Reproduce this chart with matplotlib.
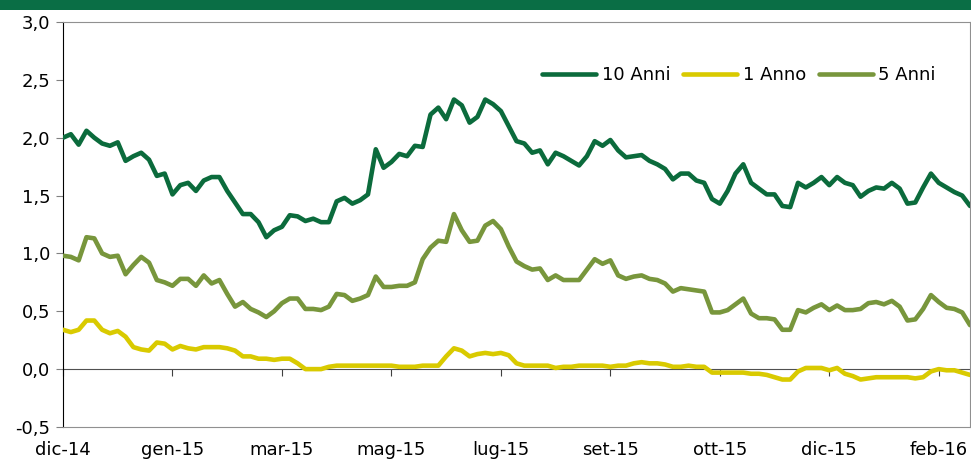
import numpy as np
import matplotlib
matplotlib.use('Agg')
import matplotlib.pyplot as plt
from matplotlib.patches import Rectangle
from matplotlib.ticker import FuncFormatter

# Tick labels (one every 14 observations)
tick_labels = ['dic-14', 'gen-15', 'mar-15', 'mag-15', 'lug-15',
               'set-15', 'ott-15', 'dic-15', 'feb-16']
tick_step = 14

# Yields (%)
anni_10 = [2.00, 2.03, 1.94, 2.06, 2.00, 1.95, 1.93, 1.96, 1.80, 1.84,
           1.87, 1.81, 1.67, 1.69, 1.51, 1.59, 1.61, 1.54, 1.63, 1.66,
           1.66, 1.54, 1.44, 1.34, 1.34, 1.27, 1.14, 1.20, 1.23, 1.33,
           1.32, 1.28, 1.30, 1.27, 1.27, 1.45, 1.48, 1.43, 1.46, 1.51,
           1.90, 1.74, 1.79, 1.86, 1.84, 1.93, 1.92, 2.20, 2.26, 2.16,
           2.33, 2.28, 2.13, 2.18, 2.33, 2.29, 2.23, 2.10, 1.97, 1.95,
           1.87, 1.89, 1.77, 1.87, 1.84, 1.80, 1.76, 1.84, 1.97, 1.93,
           1.98, 1.89, 1.83, 1.84, 1.85, 1.80, 1.77, 1.73, 1.64, 1.69,
           1.69, 1.63, 1.61, 1.47, 1.43, 1.54, 1.69, 1.77, 1.61, 1.56,
           1.51, 1.51, 1.41, 1.40, 1.61, 1.57, 1.61, 1.66, 1.59, 1.66,
           1.61, 1.59, 1.49, 1.54, 1.57, 1.56, 1.61, 1.56, 1.43, 1.44,
           1.57, 1.69, 1.61, 1.57, 1.53, 1.50, 1.41]

anno_1 = [0.34, 0.32, 0.34, 0.42, 0.42, 0.34, 0.31, 0.33, 0.28, 0.19,
          0.17, 0.16, 0.23, 0.22, 0.17, 0.20, 0.18, 0.17, 0.19, 0.19,
          0.19, 0.18, 0.16, 0.11, 0.11, 0.09, 0.09, 0.08, 0.09, 0.09,
          0.05, 0.00, 0.00, 0.00, 0.02, 0.03, 0.03, 0.03, 0.03, 0.03,
          0.03, 0.03, 0.03, 0.02, 0.02, 0.02, 0.03, 0.03, 0.03, 0.11,
          0.18, 0.16, 0.11, 0.13, 0.14, 0.13, 0.14, 0.12, 0.05, 0.03,
          0.03, 0.03, 0.03, 0.01, 0.02, 0.02, 0.03, 0.03, 0.03, 0.03,
          0.02, 0.03, 0.03, 0.05, 0.06, 0.05, 0.05, 0.04, 0.02, 0.02,
          0.03, 0.02, 0.02, -0.03, -0.03, -0.03, -0.03, -0.03, -0.04, -0.04,
          -0.05, -0.07, -0.09, -0.09, -0.02, 0.01, 0.01, 0.01, -0.01, 0.01,
          -0.04, -0.06, -0.09, -0.08, -0.07, -0.07, -0.07, -0.07, -0.07, -0.08,
          -0.07, -0.02, 0.00, -0.01, -0.01, -0.03, -0.05]

anni_5 = [0.98, 0.97, 0.94, 1.14, 1.13, 1.00, 0.97, 0.98, 0.82, 0.90,
          0.97, 0.92, 0.77, 0.75, 0.72, 0.78, 0.78, 0.72, 0.81, 0.74,
          0.77, 0.65, 0.54, 0.58, 0.52, 0.49, 0.45, 0.50, 0.57, 0.61,
          0.61, 0.52, 0.52, 0.51, 0.54, 0.65, 0.64, 0.59, 0.61, 0.64,
          0.80, 0.71, 0.71, 0.72, 0.72, 0.75, 0.95, 1.05, 1.11, 1.10,
          1.34, 1.20, 1.10, 1.11, 1.24, 1.28, 1.21, 1.06, 0.93, 0.89,
          0.86, 0.87, 0.77, 0.81, 0.77, 0.77, 0.77, 0.86, 0.95, 0.91,
          0.94, 0.81, 0.78, 0.80, 0.81, 0.78, 0.77, 0.74, 0.67, 0.70,
          0.69, 0.68, 0.67, 0.49, 0.49, 0.51, 0.56, 0.61, 0.48, 0.44,
          0.44, 0.43, 0.34, 0.34, 0.51, 0.49, 0.53, 0.56, 0.51, 0.55,
          0.51, 0.51, 0.52, 0.57, 0.58, 0.56, 0.59, 0.54, 0.42, 0.43,
          0.52, 0.64, 0.58, 0.53, 0.52, 0.49, 0.38]

plt.rcParams['font.family'] = ['DejaVu Sans']
plt.rcParams['font.size'] = 13

fig = plt.figure(figsize=(9.71, 4.61), dpi=100)
ax = fig.add_axes([0.0649, 0.0738, 0.9341, 0.8785])

# green header strip
fig.patches.append(Rectangle((0, 1 - 10 / 461), 1, 10 / 461, transform=fig.transFigure,
                             facecolor='#0a6e45', edgecolor='none'))

x = np.arange(len(anni_10))
ax.plot(x, anni_10, color='#0b6b3c', lw=3.3, solid_capstyle='round', label='10 Anni', zorder=3)
ax.plot(x, anno_1, color='#d9ca00', lw=3.3, solid_capstyle='round', label='1 Anno', zorder=3)
ax.plot(x, anni_5, color='#78963c', lw=3.3, solid_capstyle='round', label='5 Anni', zorder=3)

ax.set_xlim(0, len(anni_10) - 1)
ax.set_ylim(-0.5, 3.0)
ax.set_yticks(np.arange(-0.5, 3.01, 0.5))
ax.yaxis.set_major_formatter(FuncFormatter(lambda v, p: '{:.1f}'.format(v).replace('.', ',')))

ticks = np.arange(len(tick_labels)) * tick_step
ax.set_xticks(ticks)
ax.set_xticklabels(tick_labels)
ax.tick_params(axis='x', length=0, pad=10)
ax.tick_params(axis='y', direction='out', length=5, color='#808080', pad=4)

for side in ['top', 'right', 'bottom']:
    ax.spines[side].set_color('#909090')
ax.spines['left'].set_color('black')

# zero line with its own tick marks
zero = ax.secondary_xaxis(0.5 / 3.5)
zero.set_xticks(ticks)
zero.set_xticklabels([''] * len(ticks))
zero.tick_params(direction='out', length=5, color='#404040')
zero.spines['bottom'].set_color('#505050')

ax.legend(loc='center right', bbox_to_anchor=(0.972, 0.869), ncol=3, frameon=False,
          handlelength=3.0, handletextpad=0.3, columnspacing=0.7, borderpad=0,
          fontsize=13)

fig.savefig('out.png', dpi=100)
